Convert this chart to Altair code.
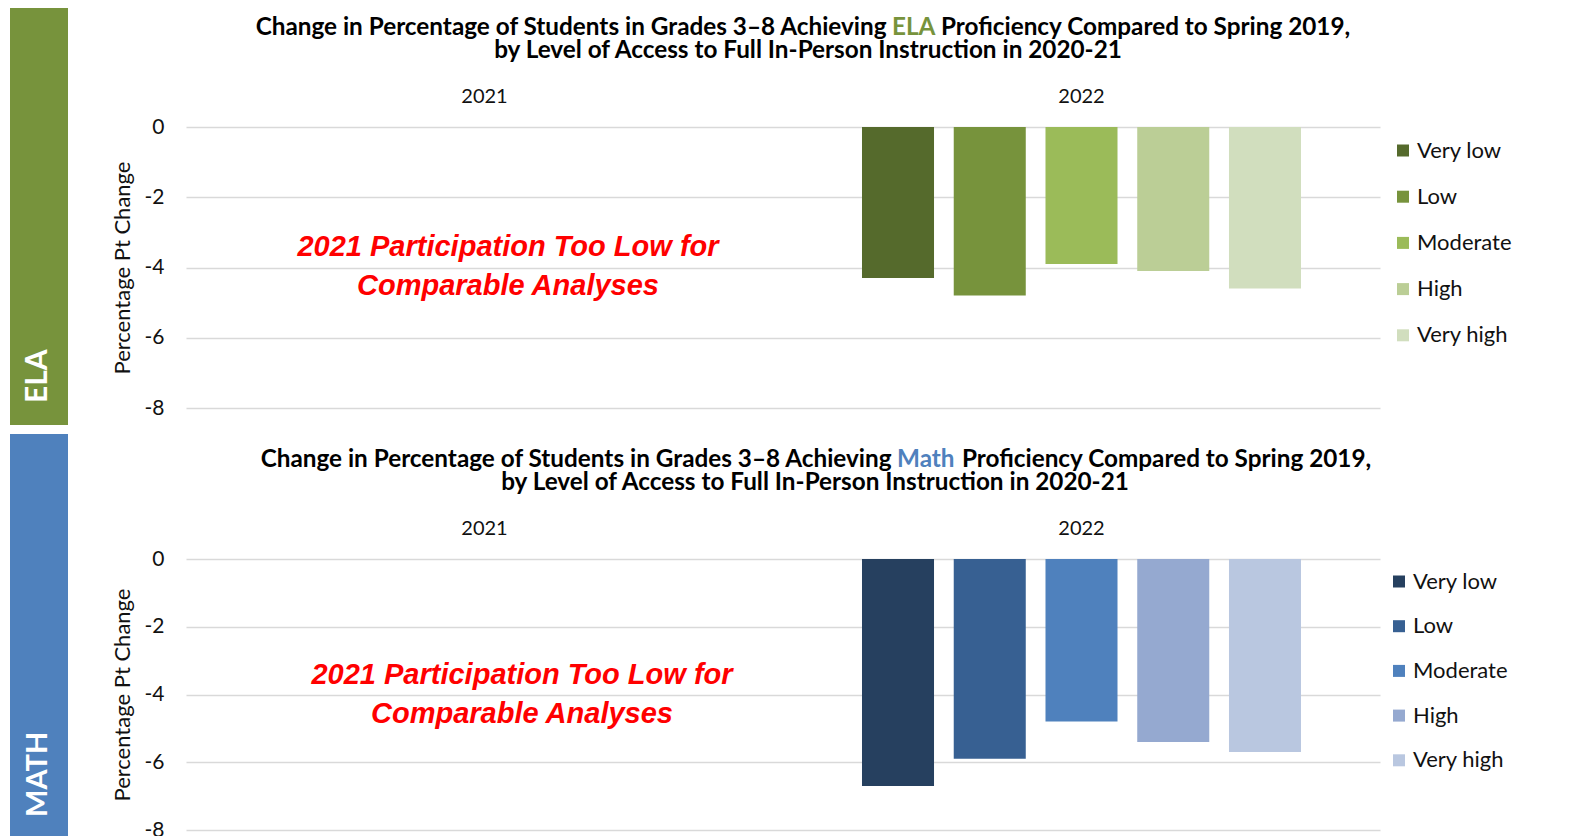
import altair as alt
import pandas as pd

# ---------------- data ----------------
levels = ["Very low", "Low", "Moderate", "High", "Very high"]
years = ["2021", "2022"]
ela_2022 = [-4.3, -4.8, -3.9, -4.1, -4.6]
math_2022 = [-6.7, -5.9, -4.8, -5.4, -5.7]
y_ticks = [0, -2, -4, -6, -8]

ela_colors = ["#556A2C", "#77933C", "#9BBB59", "#BBCE96", "#D1DEBE"]
math_colors = ["#26405F", "#376092", "#4F81BD", "#95A9D0", "#B9C7E0"]
ELA_GREEN = "#77933C"
MATH_BLUE = "#4F81BD"

title_prefix = "Change in Percentage of Students in Grades 3\u20138 Achieving"
title_suffix = "Proficiency Compared to Spring 2019,"
title_line2 = "by Level of Access to Full In-Person Instruction in 2020-21"
note_text = "2021 Participation Too Low for\nComparable Analyses"
y_title = "Percentage Pt Change"

FONT = "Lato"
NOTE_FONT = "Liberation Sans"
TITLE_FS = 24.3
W = 1194


def txt(s, x, y, **kw):
    return alt.Chart(pd.DataFrame({"t": [s]})).mark_text(**kw).encode(
        text="t:N", x=alt.value(x), y=alt.value(y)
    )


def panel(values, colors, subject, subject_color, height, g):
    df = pd.DataFrame({"Year": ["2022"] * len(levels), "Level": levels, "Change": values})
    bars = alt.Chart(df).mark_bar().encode(
        x=alt.X(
            "Year:N",
            scale=alt.Scale(domain=years, paddingInner=0, paddingOuter=0),
            axis=alt.Axis(
                orient="top", title=None, domain=False, ticks=False, tickSize=0,
                labelAngle=0, labelPadding=21, labelFont=FONT, labelFontSize=20,
                labelColor="#111111",
            ),
        ),
        xOffset=alt.XOffset(
            "Level:N", sort=levels,
            scale=alt.Scale(domain=levels, paddingInner=0.215, paddingOuter=0.861),
        ),
        y=alt.Y(
            "Change:Q",
            scale=alt.Scale(domain=[-8, 0], nice=False, zero=True),
            axis=alt.Axis(
                values=y_ticks, labelExpr="toString(datum.value)", domain=False,
                ticks=False, tickSize=0, labelPadding=22, labelFont=FONT,
                labelFontSize=21, labelColor="#111111", grid=True,
                gridColor="#D9D9D9", gridWidth=1.5,
                title=y_title, titleFont=FONT, titleFontSize=22,
                titleFontWeight="normal", titleColor="#111111", titleAngle=270,
                titleX=-64, titleY=height / 2, titleAlign="center",
                titleBaseline="middle",
            ),
        ),
        color=alt.Color(
            "Level:N", sort=levels,
            scale=alt.Scale(domain=levels, range=colors),
            legend=alt.Legend(
                orient="none", legendX=g["legx"], legendY=g["legy"], title=None,
                direction="vertical", labelFont=FONT, labelFontSize=22,
                labelColor="#111111", symbolType="square", symbolSize=144,
                symbolStrokeWidth=0, rowPadding=g["rowpad"], labelOffset=3,
                padding=0,
            ),
        ),
    )

    side = alt.Chart(pd.DataFrame({"s": [subject]})).mark_rect(color=subject_color).encode(
        x=alt.value(-176), x2=alt.value(-118), y=alt.value(g["side_top"]), y2=alt.value(g["side_bot"])
    )
    side_label = txt(subject.upper(), -148, g["side_lab_y"], angle=270, align="left",
                     baseline="middle", font=FONT, fontWeight="bold",
                     fontSize=g["side_fs"], color="white")

    t_pre = txt(title_prefix, g["pre_x"], g["t1_y"], align="right", baseline="middle",
                font=FONT, fontWeight="bold", fontSize=TITLE_FS, color="#000000")
    t_sub = txt(subject, g["sub_x"], g["t1_y"], align="left", baseline="middle",
                font=FONT, fontWeight="bold", fontSize=TITLE_FS, color=subject_color)
    t_suf = txt(title_suffix, g["suf_x"], g["t1_y"], align="left", baseline="middle",
                font=FONT, fontWeight="bold", fontSize=TITLE_FS, color="#000000")
    t_l2 = txt(title_line2, g["l2_x"], g["t2_y"], align="center", baseline="middle",
               font=FONT, fontWeight="bold", fontSize=TITLE_FS, color="#000000")

    note = txt(note_text, g["note_x"], g["note_y"], align="center", baseline="middle",
               font=NOTE_FONT, fontWeight="bold", fontStyle="italic", fontSize=29,
               color="#FF0000", lineBreak="\n", lineHeight=39)

    return alt.layer(side, side_label, bars, t_pre, t_sub, t_suf, t_l2, note).properties(
        width=W, height=height
    )


ela_geo = dict(legx=1206, legy=12.5, rowpad=24.2, side_top=-119, side_bot=298,
               side_lab_y=276, side_fs=30, pre_x=700.5, sub_x=706, suf_x=755,
               t1_y=-99, l2_x=622, t2_y=-75.8, note_x=322, note_y=120)
math_geo = dict(legx=1202, legy=11.5, rowpad=22.7, side_top=-125, side_bot=277,
                side_lab_y=258, side_fs=29, pre_x=705.5, sub_x=711, suf_x=776,
                t1_y=-99.5, l2_x=629, t2_y=-76, note_x=336, note_y=116)

ela = panel(ela_2022, ela_colors, "ELA", ELA_GREEN, 281, ela_geo)
math = panel(math_2022, math_colors, "Math", MATH_BLUE, 271, math_geo)

chart = alt.vconcat(ela, math, spacing=9).resolve_scale(color="independent").properties(
    padding={"left": 2, "top": 0, "right": 10, "bottom": 0}
).configure_view(stroke=None)

chart.save("out.html", embed_options={"renderer": "svg", "actions": False})
